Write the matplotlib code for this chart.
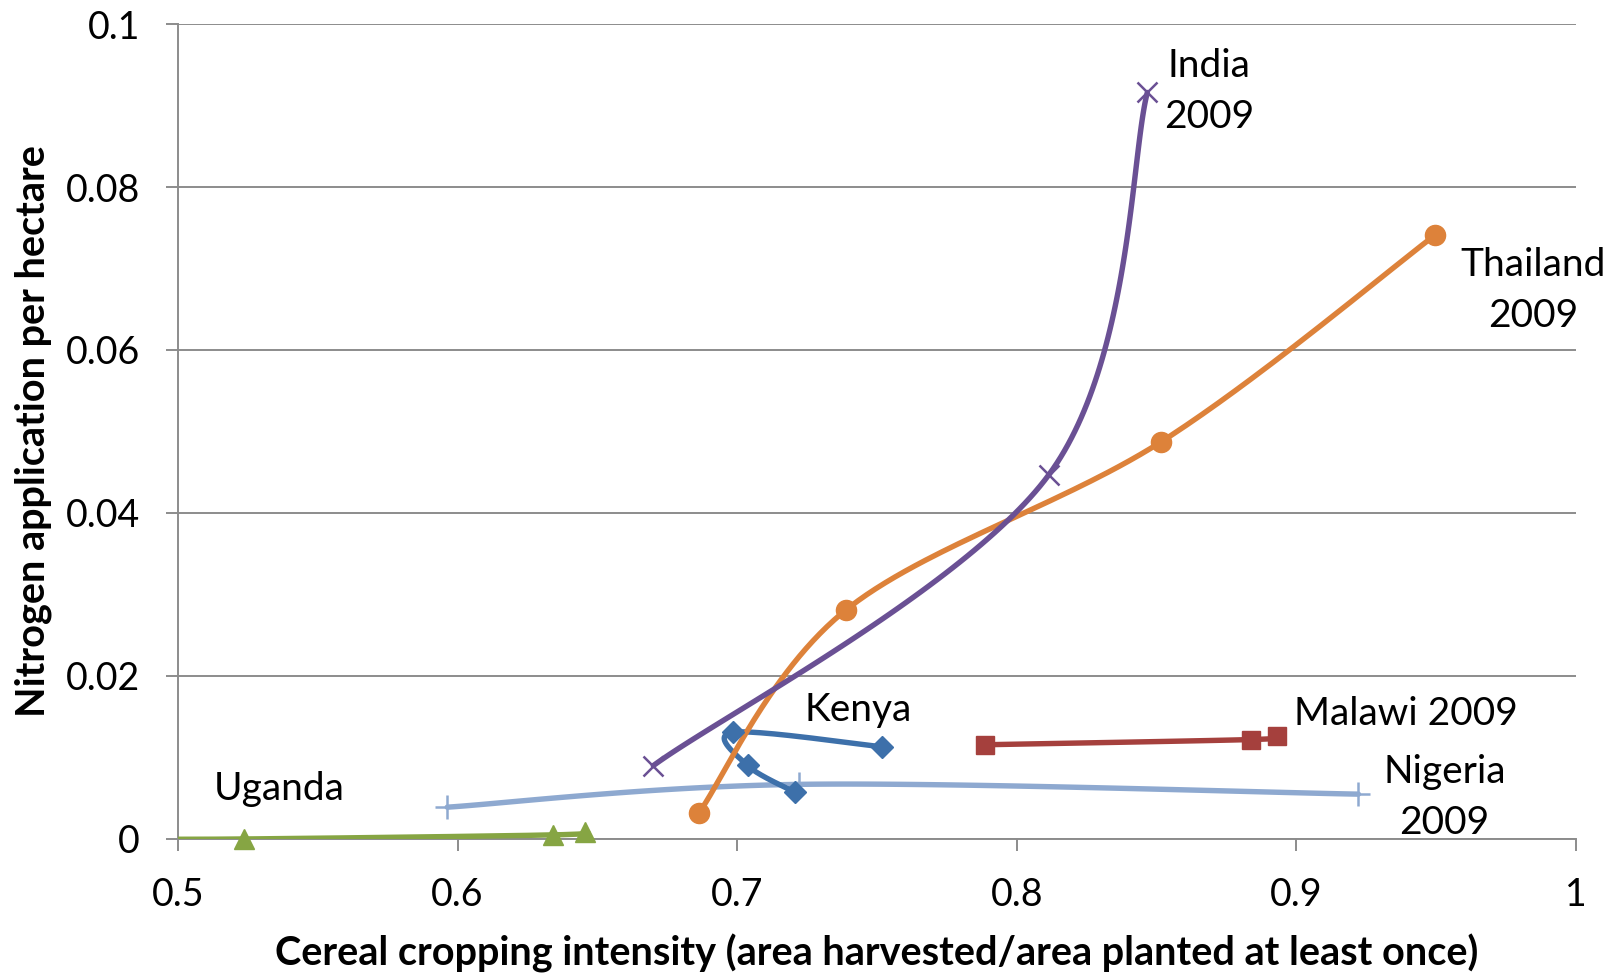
import numpy as np
import matplotlib
matplotlib.use("Agg")
import matplotlib.pyplot as plt

plt.rcParams['font.family'] = ['Lato', 'DejaVu Sans']

# ---- data ----
india_x = [0.670, 0.8115, 0.8467]
india_y = [0.0090, 0.0447, 0.0916]
thailand_x = [0.6863, 0.7389, 0.8515, 0.9496]
thailand_y = [0.0032, 0.0281, 0.0487, 0.0741]
kenya_x = [0.7519, 0.6985, 0.7037, 0.7207]
kenya_y = [0.01131, 0.01309, 0.00902, 0.00572]
malawi_x = [0.7885, 0.8837, 0.8930]
malawi_y = [0.01156, 0.0122, 0.01258]
nigeria_x = [0.5963, 0.7222, 0.9222]
nigeria_y = [0.0039, 0.0067, 0.0055]
uganda_x = [0.47, 0.5237, 0.634, 0.6456]
uganda_y = [0.0, 0.0, 0.0005, 0.0009]

x_ticks = [0.5, 0.6, 0.7, 0.8, 0.9, 1.0]
x_tick_labels = ['0.5', '0.6', '0.7', '0.8', '0.9', '1']
y_ticks = [0, 0.02, 0.04, 0.06, 0.08, 0.1]
y_tick_labels = ['0', '0.02', '0.04', '0.06', '0.08', '0.1']


def smooth(xs, ys, n=60):
    P = np.column_stack([xs, ys]).astype(float)
    m = len(P)
    if m < 3:
        return P[:, 0], P[:, 1]
    ext = np.vstack([P[0], P, P[-1]])
    out = []
    t = np.linspace(0, 1, n)[:, None]
    for i in range(m - 1):
        p0, p1, p2, p3 = ext[i], ext[i + 1], ext[i + 2], ext[i + 3]
        c1 = p1 + (p2 - p0) / 6.0
        c2 = p2 - (p3 - p1) / 6.0
        seg = ((1 - t) ** 3) * p1 + 3 * ((1 - t) ** 2) * t * c1 + 3 * (1 - t) * t ** 2 * c2 + t ** 3 * p2
        out.append(seg if i == 0 else seg[1:])
    out = np.vstack(out)
    return out[:, 0], out[:, 1]


fig = plt.figure(figsize=(16.24, 9.76), dpi=100)
ax = fig.add_axes([0.1096, 0.1404, 0.8608, 0.835])

lw = 3.9
series = [
    (uganda_x, uganda_y, '#86A543', '^', 14),
    (nigeria_x, nigeria_y, '#8EA9D0', '+', 17),
    (malawi_x, malawi_y, '#A5403D', 's', 13),
    (kenya_x, kenya_y, '#3D70AA', 'D', 11),
    (thailand_x, thailand_y, '#DD823A', 'o', 14.5),
    (india_x, india_y, '#6A5094', 'x', 15),
]
for xs, ys, c, mk, ms in series:
    sx, sy = smooth(xs, ys)
    ax.plot(sx, sy, color=c, lw=lw, solid_capstyle='round', solid_joinstyle='round', zorder=3, clip_on=True)
    vis = [(x, y) for x, y in zip(xs, ys) if 0.5 <= x <= 1.0]
    vx = [v[0] for v in vis]
    vy = [v[1] for v in vis]
    if mk in ('+', 'x'):
        ax.plot(vx, vy, ls='none', marker=mk, ms=ms, mew=1.8, color=c, zorder=4, clip_on=False)
    else:
        ax.plot(vx, vy, ls='none', marker=mk, ms=ms, color=c, mec=c, zorder=4, clip_on=False)

ax.set_xlim(0.5, 1.0)
ax.set_ylim(0, 0.1)
ax.set_xticks(x_ticks)
ax.set_xticklabels(x_tick_labels)
ax.set_yticks(y_ticks)
ax.set_yticklabels(y_tick_labels)
ax.yaxis.grid(True, color='#8C8C8C', lw=1.4)
ax.set_axisbelow(True)
for s in ['top', 'right']:
    ax.spines[s].set_visible(False)
for s in ['left', 'bottom']:
    ax.spines[s].set_color('#8C8C8C')
    ax.spines[s].set_linewidth(1.4)
ax.tick_params(axis='both', colors='#8C8C8C', labelcolor='black', labelsize=27,
               length=8.5, width=1.4, direction='out', pad=19)

ax.set_xlabel('Cereal cropping intensity (area harvested/area planted at least once)',
              fontsize=28.5, fontweight='bold', labelpad=15)
ax.set_ylabel('Nitrogen application per hectare', fontsize=28.5, fontweight='bold', labelpad=10)

fs = 28
ls = 1.5
ax.text(0.8689, 0.0917, 'India\n2009', fontsize=fs, ha='center', va='center', linespacing=ls)
ax.text(0.9848, 0.0673, 'Thailand\n2009', fontsize=fs, ha='center', va='center', linespacing=ls)
ax.text(0.7433, 0.01588, 'Kenya', fontsize=fs, ha='center', va='center')
ax.text(0.9393, 0.01537, 'Malawi 2009', fontsize=fs, ha='center', va='center')
ax.text(0.9530, 0.00508, 'Nigeria\n2009', fontsize=fs, ha='center', va='center', linespacing=ls)
ax.text(0.5361, 0.0061, 'Uganda', fontsize=fs, ha='center', va='center')

fig.savefig('out.png', dpi=100)
